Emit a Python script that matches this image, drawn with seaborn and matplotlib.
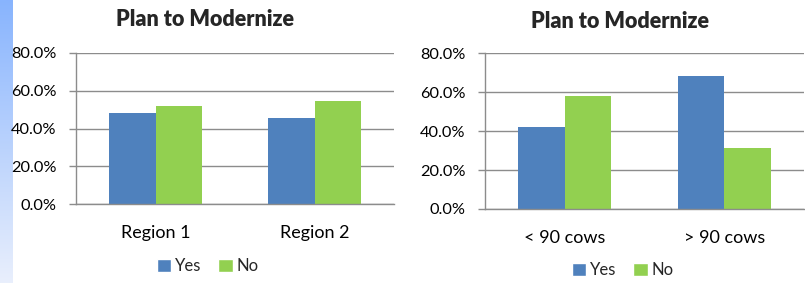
import matplotlib
matplotlib.use("Agg")
import matplotlib.pyplot as plt
import seaborn as sns
import pandas as pd
import numpy as np
from matplotlib.patches import Patch
from matplotlib.ticker import FuncFormatter, FixedLocator
from matplotlib.colors import LinearSegmentedColormap

sns.set_style("white")
plt.rcParams['font.family'] = ['Lato', 'DejaVu Sans']

title = "Plan to Modernize"
answers = ["Yes", "No"]
regions = ["Region 1", "Region 2"]
region_yes = [48.2, 45.5]
region_no = [51.8, 54.5]
herds = ["< 90 cows", "> 90 cows"]
herd_yes = [42.0, 68.5]
herd_no = [58.0, 31.5]

blue = "#4F81BD"
green = "#92D050"
grid_c = "#8C8C8C"

def make_df(cats, yes, no):
    rows = []
    for c, y, n in zip(cats, yes, no):
        rows.append((c, "Yes", y))
        rows.append((c, "No", n))
    return pd.DataFrame(rows, columns=["cat", "ans", "val"])

W, H = 805, 283
fig = plt.figure(figsize=(W / 100, H / 100), dpi=100)

# left gradient strip
gax = fig.add_axes([0, 0, 12 / W, 1])
grad = np.linspace(0, 1, 256).reshape(-1, 1)
cm = LinearSegmentedColormap.from_list("g", ["#88B4FE", "#E9EFFC"])
gax.imshow(grad, aspect="auto", cmap=cm)
gax.axis("off")

def panel(rect, cats, yes, no, title_xy, leg_xy):
    l, t, r, b = rect
    ax = fig.add_axes([l / W, 1 - b / H, (r - l) / W, (b - t) / H])
    df = make_df(cats, yes, no)
    sns.barplot(data=df, x="cat", y="val", hue="ans", hue_order=answers,
                palette=[blue, green], width=0.58, ax=ax, legend=False,
                saturation=1, edgecolor="none", linewidth=0)
    ax.set_ylim(0, 80)
    ax.set_xlim(-0.5, 1.5)
    ax.yaxis.set_major_locator(FixedLocator([0, 20, 40, 60, 80]))
    ax.yaxis.set_major_formatter(FuncFormatter(lambda v, p: f"{v:.1f}%"))
    ax.grid(axis="y", color=grid_c, linewidth=1)
    ax.set_axisbelow(True)
    for s in ["top", "right"]:
        ax.spines[s].set_visible(False)
    for s in ["left", "bottom"]:
        ax.spines[s].set_color(grid_c)
        ax.spines[s].set_linewidth(1)
    ax.set_xticks([0, 1])
    ax.set_xticklabels(cats)
    ax.set_xticks([-0.5, 0.5, 1.5], minor=True)
    ax.tick_params(axis="x", which="major", length=0, pad=15, labelsize=13, colors="#000000")
    ax.tick_params(axis="x", which="minor", length=5, color=grid_c, width=1)
    ax.tick_params(axis="y", length=5, color=grid_c, width=1, labelsize=11.8, pad=9, left=True,
                   labelcolor="#000000")
    ax.set_xlabel("")
    ax.set_ylabel("")
    fig.text(title_xy[0] / W, 1 - title_xy[1] / H, title, ha="center", va="center",
             fontsize=15.5, fontweight="heavy")
    handles = [Patch(facecolor=blue, label="Yes"), Patch(facecolor=green, label="No")]
    fig.legend(handles=handles, loc="center", bbox_to_anchor=(leg_xy[0] / W, 1 - leg_xy[1] / H),
               ncol=2, frameon=False, handlelength=0.85, handleheight=0.85,
               handletextpad=0.25, columnspacing=1.0, borderaxespad=0,
               prop={"size": 12})
    return ax

panel((76, 53, 394, 204), regions, region_yes, region_no, (205, 20), (208, 266))
panel((485, 53.3, 804, 209), herds, herd_yes, herd_no, (620, 21), (623, 270))

fig.savefig("out.png", dpi=100)
